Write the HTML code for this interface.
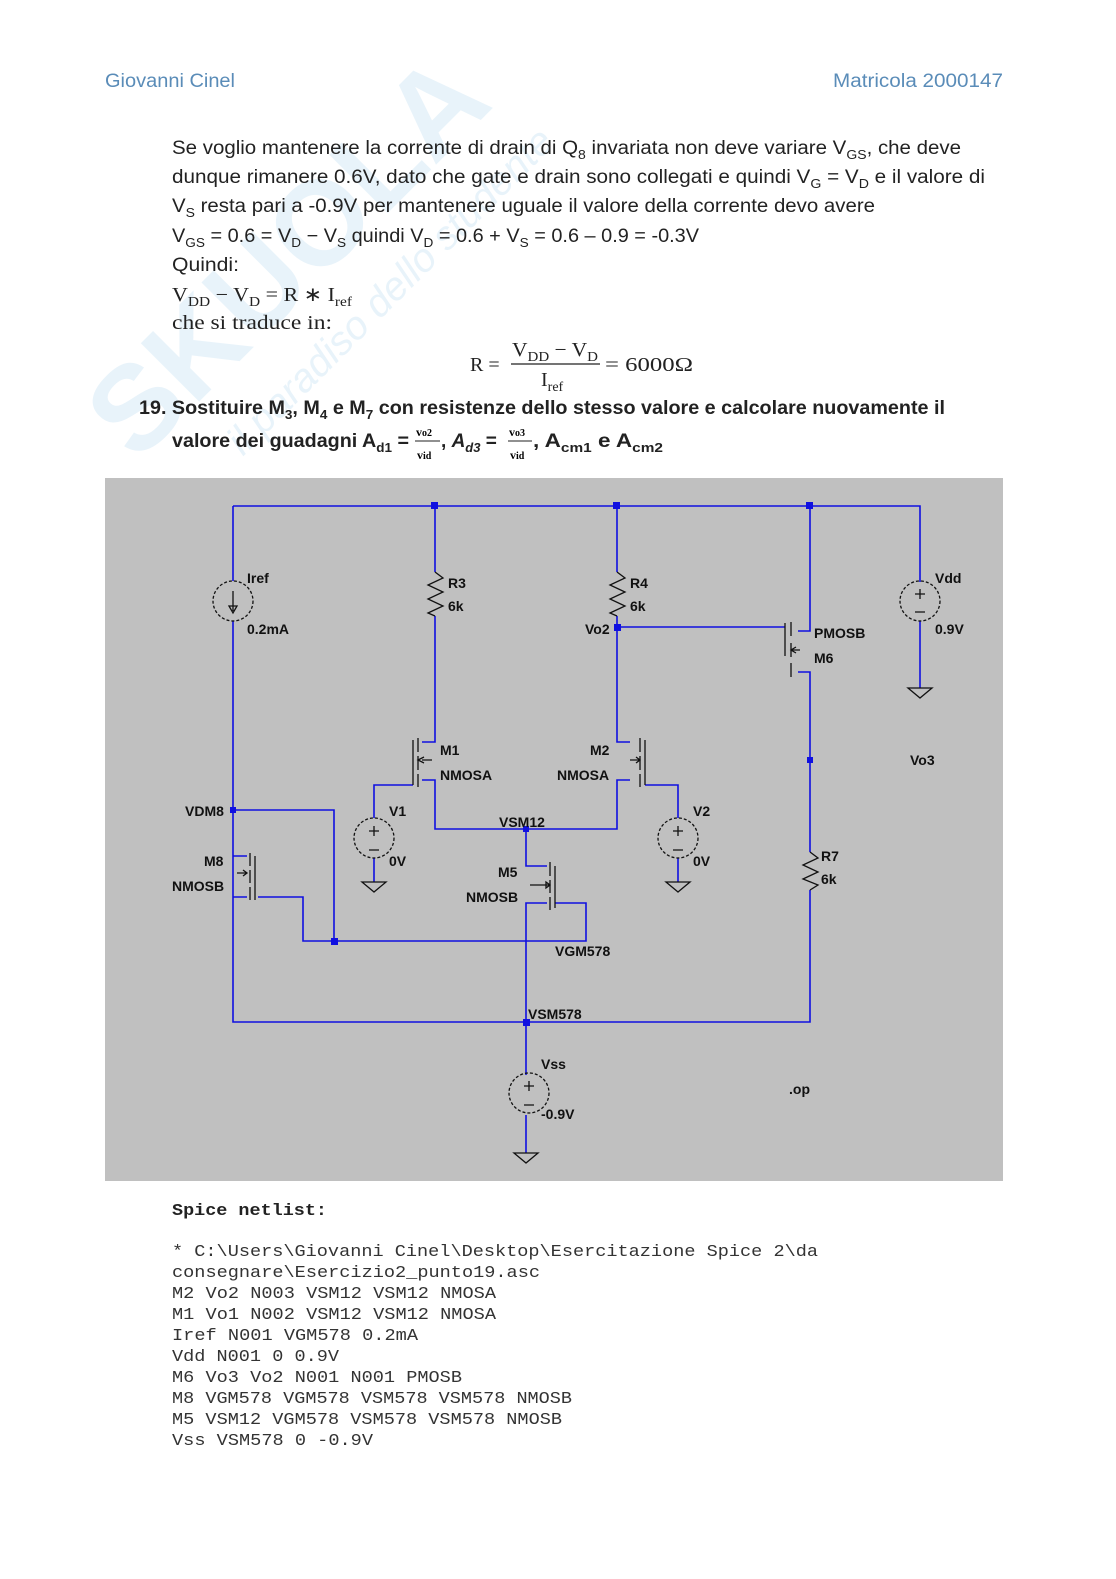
<!DOCTYPE html>
<html><head><meta charset="utf-8"><style>
html,body{margin:0;padding:0;background:#fff}
svg{display:block}
.t{font-family:"Liberation Sans",sans-serif;font-size:19px;fill:#222}
.s{font-family:"Liberation Serif",serif;font-size:20px;fill:#222}
.m{font-family:"Liberation Mono",monospace;font-size:17px;fill:#333}
.c{font-family:"Liberation Sans",sans-serif;font-size:14px;font-weight:bold;fill:#111}
.w{stroke:#1010e0;stroke-width:1.6;fill:none}
.k{stroke:#111;stroke-width:1.3;fill:none}
</style></head><body>
<svg width="1116" height="1579" viewBox="0 0 1116 1579" xmlns="http://www.w3.org/2000/svg">
<g opacity="0.1" transform="rotate(-45 250 280)">
<text x="40" y="330" font-family="Liberation Sans" font-weight="bold" font-size="120" fill="#2a8fd0">SKUOLA</text>
<text x="120" y="400" font-family="Liberation Sans" font-style="italic" font-size="40" fill="#2a8fd0">il paradiso dello studente</text>
</g>
<text x="105" y="87" class="t" style="fill:#5a8cb8" textLength="130" lengthAdjust="spacingAndGlyphs">Giovanni Cinel</text>
<text x="833" y="87" class="t" style="fill:#5a8cb8" textLength="170" lengthAdjust="spacingAndGlyphs">Matricola 2000147</text>

<text x="172" y="154" class="t" textLength="789" lengthAdjust="spacingAndGlyphs">Se voglio mantenere la corrente di drain di Q<tspan dy="5" font-size="13">8</tspan><tspan dy="-5"> invariata non deve variare V</tspan><tspan dy="5" font-size="13">GS</tspan><tspan dy="-5">, che deve</tspan></text>
<text x="172" y="183" class="t" textLength="813" lengthAdjust="spacingAndGlyphs">dunque rimanere 0.6V, dato che gate e drain sono collegati e quindi V<tspan dy="5" font-size="13">G</tspan><tspan dy="-5"> = V</tspan><tspan dy="5" font-size="13">D</tspan><tspan dy="-5"> e il valore di</tspan></text>
<text x="172" y="212" class="t" textLength="703" lengthAdjust="spacingAndGlyphs">V<tspan dy="5" font-size="13">S</tspan><tspan dy="-5"> resta pari a -0.9V per mantenere uguale il valore della corrente devo avere</tspan></text>
<text x="172" y="242" class="t" textLength="527" lengthAdjust="spacingAndGlyphs">V<tspan dy="5" font-size="13">GS</tspan><tspan dy="-5"> = 0.6 = V</tspan><tspan dy="5" font-size="13">D</tspan><tspan dy="-5"> − V</tspan><tspan dy="5" font-size="13">S</tspan><tspan dy="-5"> quindi V</tspan><tspan dy="5" font-size="13">D</tspan><tspan dy="-5"> = 0.6 + V</tspan><tspan dy="5" font-size="13">S</tspan><tspan dy="-5"> = 0.6 – 0.9 = -0.3V</tspan></text>
<text x="172" y="271" class="t" textLength="67" lengthAdjust="spacingAndGlyphs">Quindi:</text>
<text x="172" y="301" class="s" textLength="180" lengthAdjust="spacingAndGlyphs">V<tspan dy="5" font-size="14">DD</tspan><tspan dy="-5"> − V</tspan><tspan dy="5" font-size="14">D</tspan><tspan dy="-5"> = R ∗ I</tspan><tspan dy="5" font-size="14">ref</tspan></text>
<text x="172" y="329" class="s" textLength="160" lengthAdjust="spacingAndGlyphs">che si traduce in:</text>
<text x="470" y="371" class="s">R =</text>
<text x="512" y="356" class="s" textLength="86" lengthAdjust="spacingAndGlyphs">V<tspan dy="5" font-size="14">DD</tspan><tspan dy="-5"> − V</tspan><tspan dy="5" font-size="14">D</tspan></text>
<line x1="511" y1="364" x2="600" y2="364" stroke="#222" stroke-width="1.2"/>
<text x="541" y="386" class="s">I<tspan dy="5" font-size="14">ref</tspan></text>
<text x="605" y="371" class="s" textLength="88" lengthAdjust="spacingAndGlyphs">= 6000Ω</text>

<text x="139" y="414" class="t" font-weight="bold" textLength="806" lengthAdjust="spacingAndGlyphs">19. Sostituire M<tspan dy="5" font-size="13">3</tspan><tspan dy="-5">, M</tspan><tspan dy="5" font-size="13">4</tspan><tspan dy="-5"> e M</tspan><tspan dy="5" font-size="13">7</tspan><tspan dy="-5"> con resistenze dello stesso valore e calcolare nuovamente il</tspan></text>
<text x="172" y="447" class="t" font-weight="bold" textLength="237" lengthAdjust="spacingAndGlyphs">valore dei guadagni A<tspan dy="5" font-size="13">d1</tspan><tspan dy="-5"> =</tspan></text>
<text x="416" y="436" font-family="Liberation Serif" font-size="12" font-weight="bold">v<tspan font-size="10">o2</tspan></text>
<line x1="415" y1="441" x2="440" y2="441" stroke="#222"/>
<text x="417" y="459" font-family="Liberation Serif" font-size="12" font-weight="bold">v<tspan font-size="10">id</tspan></text>
<text x="441" y="447" class="t" font-weight="bold">, <tspan font-style="italic">A</tspan><tspan dy="5" font-size="13" font-style="italic">d3</tspan><tspan dy="-5"> =</tspan></text>
<text x="509" y="436" font-family="Liberation Serif" font-size="12" font-weight="bold">v<tspan font-size="10">o3</tspan></text>
<line x1="508" y1="441" x2="532" y2="441" stroke="#222"/>
<text x="510" y="459" font-family="Liberation Serif" font-size="12" font-weight="bold">v<tspan font-size="10">id</tspan></text>
<text x="533" y="447" class="t" font-weight="bold" textLength="130" lengthAdjust="spacingAndGlyphs">, A<tspan dy="5" font-size="13">cm1</tspan><tspan dy="-5">  e A</tspan><tspan dy="5" font-size="13">cm2</tspan></text>

<rect x="105" y="478" width="898" height="703" fill="#c0c0c0"/>
<g class="w">
<path d="M233 506 H920 V582"/>
<path d="M233 506 V581 M233 621 V1022 H810 V890"/>
<path d="M435 506 V572 M435 616 V742 H422"/>
<path d="M617 506 V572 M617 616 V742 H630"/>
<path d="M617 627 H785"/>
<path d="M810 506 V631 H798 M798 672 H810 V852"/>
<path d="M920 621 V688"/>
<path d="M413 785 H374 V818 M374 858 V882"/>
<path d="M645 785 H678 V818 M678 858 V882"/>
<path d="M422 780 H435 V829 H617 V780 H630"/>
<path d="M526 829 V866 H547 M547 903 H526 V1022 V1075 M526 1115 V1153"/>
<path d="M555 903 H586 V941 H303 V897 H258"/>
<path d="M233 810 H334 V941"/>
<path d="M233 856 H247 M247 897 H233"/>
</g>
<g fill="#1010e0">
<rect x="431" y="502" width="7" height="7"/><rect x="613" y="502" width="7" height="7"/><rect x="806" y="502" width="7" height="7"/>
<rect x="614" y="624" width="7" height="7"/><rect x="807" y="757" width="6" height="6"/>
<rect x="230" y="807" width="6" height="6"/><rect x="523" y="826" width="6" height="6"/>
<rect x="331" y="938" width="7" height="7"/><rect x="523" y="1019" width="7" height="7"/>
</g>
<g class="k">
<path d="M435 572 L443 578 L428 585 L443 592 L428 599 L443 606 L428 613 L435 616"/>
<path d="M617 572 L625 578 L610 585 L625 592 L610 599 L625 606 L610 613 L617 616"/>
<path d="M810 852 L818 858 L803 865 L818 872 L803 879 L818 885 L810 890"/>
<circle cx="233" cy="601" r="20" stroke-dasharray="3,2"/>
<path d="M233 591 V611 M229 606 L233 613 L237 606 Z"/>
<circle cx="920" cy="601" r="20" stroke-dasharray="3,2"/><path d="M915 594 H925 M920 589 V599 M915 612 H925"/>
<circle cx="374" cy="838" r="20" stroke-dasharray="3,2"/><path d="M369 831 H379 M374 826 V836 M369 850 H379"/>
<circle cx="678" cy="838" r="20" stroke-dasharray="3,2"/><path d="M673 831 H683 M678 826 V836 M673 850 H683"/>
<circle cx="529" cy="1093" r="20" stroke-dasharray="3,2"/><path d="M524 1086 H534 M529 1081 V1091 M524 1105 H534"/>
<path d="M908 688 H932 L920 698 Z"/><path d="M362 882 H386 L374 892 Z"/><path d="M666 882 H690 L678 892 Z"/><path d="M514 1153 H538 L526 1163 Z"/>
<path d="M413 740 V785 M418 738 V752 M418 756 V770 M418 774 V787 M422 760 H432 M424 757 L418 760 L424 763"/>
<path d="M645 740 V785 M640 738 V752 M640 756 V770 M640 774 V787 M630 760 H640 M636 757 L640 760 L636 763"/>
<path d="M555 866 V908 M550 862 V876 M550 880 V893 M550 897 V910 M530 885 H550 M546 882 L550 885 L546 888 Z"/>
<path d="M255 856 V900 M250 853 V866 M250 870 V883 M250 887 V900 M237 873 H247 M243 870 L247 873 L243 876"/>
<path d="M785 623 V656 M791 622 V636 M791 643 V657 M791 663 V677 M791 650 H800 M796 647 L791 650 L796 653"/>
</g>
<g class="c">
<text x="247" y="583">Iref</text><text x="247" y="634">0.2mA</text>
<text x="448" y="588">R3</text><text x="448" y="611">6k</text>
<text x="630" y="588">R4</text><text x="630" y="611">6k</text>
<text x="585" y="634">Vo2</text>
<text x="814" y="638">PMOSB</text><text x="814" y="663">M6</text>
<text x="935" y="583">Vdd</text><text x="935" y="634">0.9V</text>
<text x="440" y="755">M1</text><text x="440" y="780">NMOSA</text>
<text x="590" y="755">M2</text><text x="557" y="780">NMOSA</text>
<text x="910" y="765">Vo3</text>
<text x="185" y="816">VDM8</text>
<text x="389" y="816">V1</text><text x="389" y="866">0V</text>
<text x="693" y="816">V2</text><text x="693" y="866">0V</text>
<text x="499" y="827">VSM12</text>
<text x="204" y="866">M8</text><text x="172" y="891">NMOSB</text>
<text x="498" y="877">M5</text><text x="466" y="902">NMOSB</text>
<text x="821" y="861">R7</text><text x="821" y="884">6k</text>
<text x="555" y="956">VGM578</text>
<text x="528" y="1019">VSM578</text>
<text x="541" y="1069">Vss</text><text x="541" y="1119">-0.9V</text>
<text x="789" y="1094">.op</text>
</g>

<text x="172" y="1215" font-family="Liberation Mono" font-size="17" font-weight="bold" fill="#222" textLength="155" lengthAdjust="spacingAndGlyphs">Spice netlist:</text>
<g class="m">
<text x="172" y="1256" textLength="646" lengthAdjust="spacingAndGlyphs">* C:\Users\Giovanni Cinel\Desktop\Esercitazione Spice 2\da</text>
<text x="172" y="1277" textLength="368" lengthAdjust="spacingAndGlyphs">consegnare\Esercizio2_punto19.asc</text>
<text x="172" y="1298" textLength="324" lengthAdjust="spacingAndGlyphs">M2 Vo2 N003 VSM12 VSM12 NMOSA</text>
<text x="172" y="1319" textLength="324" lengthAdjust="spacingAndGlyphs">M1 Vo1 N002 VSM12 VSM12 NMOSA</text>
<text x="172" y="1340" textLength="246" lengthAdjust="spacingAndGlyphs">Iref N001 VGM578 0.2mA</text>
<text x="172" y="1361" textLength="167" lengthAdjust="spacingAndGlyphs">Vdd N001 0 0.9V</text>
<text x="172" y="1382" textLength="290" lengthAdjust="spacingAndGlyphs">M6 Vo3 Vo2 N001 N001 PMOSB</text>
<text x="172" y="1403" textLength="400" lengthAdjust="spacingAndGlyphs">M8 VGM578 VGM578 VSM578 VSM578 NMOSB</text>
<text x="172" y="1424" textLength="390" lengthAdjust="spacingAndGlyphs">M5 VSM12 VGM578 VSM578 VSM578 NMOSB</text>
<text x="172" y="1445" textLength="201" lengthAdjust="spacingAndGlyphs">Vss VSM578 0 -0.9V</text>
</g>
</svg>
</body></html>
